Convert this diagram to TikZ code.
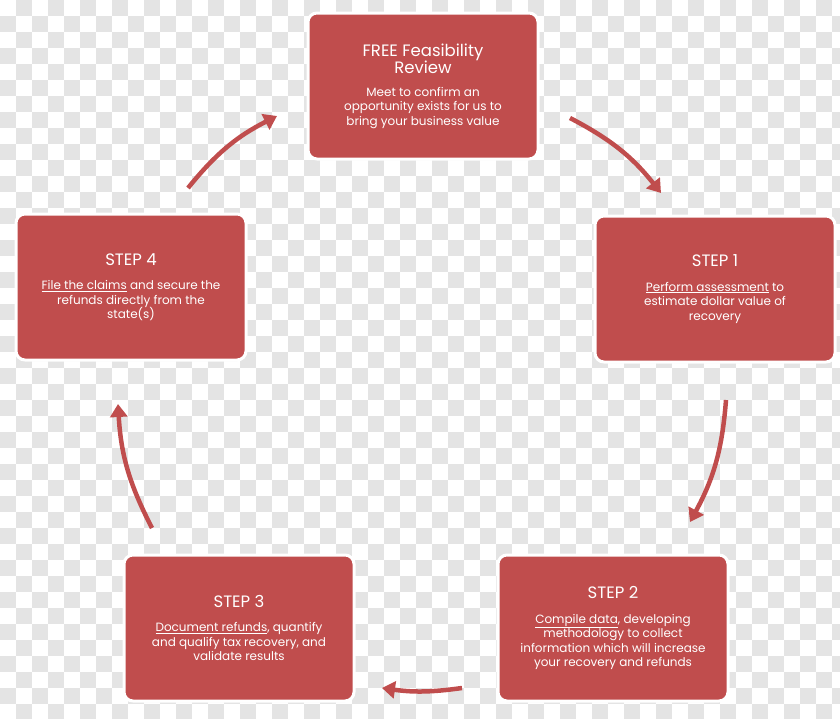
\documentclass[tikz,border=0pt]{standalone}
\usepackage{fontspec}
\setmainfont{Poppins}
\usepackage{tikz}
\usetikzlibrary{arrows.meta,shadows}
\definecolor{boxred}{HTML}{C04D4D}
\definecolor{chk}{HTML}{E4E4E4}
\newcommand{\headfont}{\fontsize{16.5}{21}\selectfont}
\newcommand{\bodyfont}{\fontsize{12}{14.5}\selectfont}
\tikzset{
  stepbox/.style={draw=white,line width=3pt,fill=boxred,rounded corners=9pt,
    minimum width=230pt,minimum height=146pt,text=white,align=center,font=\bodyfont,
    drop shadow={opacity=0.25,shadow xshift=0pt,shadow yshift=-1pt}},
  flow/.style={draw=boxred,line width=4.5pt,-{Triangle[length=13pt,width=17pt]}},
}
\begin{document}
\begin{tikzpicture}[x=1pt,y=-1pt]
\useasboundingbox (0,0) rectangle (840,718);
% checker background
\foreach \i in {0,...,52}{
  \foreach \j in {0,...,44}{
    \pgfmathtruncatemacro{\odd}{mod(\i+\j,2)}
    \ifnum\odd=1
      \fill[chk] (\i*16,\j*16) rectangle ++(16,16);
    \fi
  }
}
% boxes
\node[stepbox] (review) at (423,86) {\headfont FREE Feasibility\\ \headfont Review\\[8pt] Meet to confirm an\\ opportunity exists for us to\\ bring your business value};
\node[stepbox,minimum width=240pt] (step1) at (715,289) {\headfont STEP 1\\[10pt] \underline{Perform assessment} to\\ estimate dollar value of\\ recovery};
\node[stepbox] (step2) at (613,628) {\headfont STEP 2\\[10pt] \underline{Compile data}, developing\\ methodology to collect\\ information which will increase\\ your recovery and refunds};
\node[stepbox] (step3) at (239,628) {\headfont STEP 3\\[10pt] \underline{Document refunds}, quantify\\ and qualify tax recovery, and\\ validate results};
\node[stepbox] (step4) at (131,287) {\headfont STEP 4\\[10pt] \underline{File the claims} and secure the\\ refunds directly from the\\ state(s)};
%arrow ends
\coordinate (a1) at (570,118); \coordinate (b1) at (661,193);
\coordinate (a2) at (726,400); \coordinate (b2) at (690,522);
\coordinate (a3) at (462,688); \coordinate (b3) at (382,688);
\coordinate (a4) at (152,528); \coordinate (b4) at (118,404);
\coordinate (a5) at (188,188); \coordinate (b5) at (277,116);
 %draw
\draw[flow] (a1) to[bend left=12] (b1);
\draw[flow] (a2) to[bend left=12] (b2);
\draw[flow] (a3) to[bend left=8] (b3);
\draw[flow] (a4) to[bend left=12] (b4);
\draw[flow] (a5) to[bend left=12] (b5);
\end{tikzpicture}
\end{document}
